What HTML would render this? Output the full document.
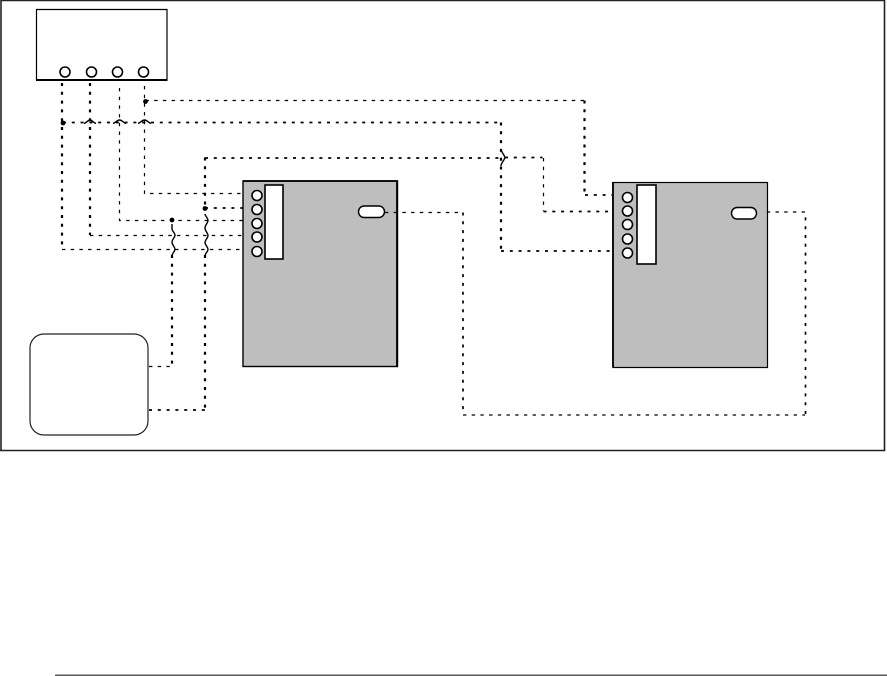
<!DOCTYPE html>
<html>
<head>
<meta charset="utf-8">
<style>
html,body{margin:0;padding:0;background:#fff;}
svg{display:block;}
.thick{fill:none;stroke:#000;stroke-width:2.2;stroke-dasharray:3 5.8;}
.med{fill:none;stroke:#000;stroke-width:1.7;stroke-dasharray:3 5.8;}
.thin{fill:none;stroke:#000;stroke-width:1.2;stroke-dasharray:3.4 5.3;}
.hump{fill:none;stroke:#000;stroke-width:1.4;}
.c{fill:#fff;stroke:#000;stroke-width:1.6;}
</style>
</head>
<body>
<svg width="887" height="676" viewBox="0 0 887 676" xmlns="http://www.w3.org/2000/svg">
<rect width="887" height="676" fill="#fff"/>
<!-- outer frame -->
<path d="M1 451V0.5H884.5V450.5H0" fill="none" stroke="#222" stroke-width="1.6"/>
<path d="M55 675.2H887" stroke="#222" stroke-width="1.2"/>

<!-- top box -->
<path d="M36.5 80V9.5H167V80" fill="#fff" stroke="#000" stroke-width="1.2"/>
<path d="M36 80H167.5" stroke="#000" stroke-width="2"/>
<circle class="c" cx="65" cy="72" r="5"/>
<circle class="c" cx="91.5" cy="72" r="5"/>
<circle class="c" cx="117.5" cy="72" r="5"/>
<circle class="c" cx="143.5" cy="72" r="5"/>

<!-- left panel -->
<rect x="243" y="181" width="154.5" height="185.5" fill="#bebebe" stroke="#000" stroke-width="1.4"/>
<path d="M397 181V366.5M243 181H397.5" stroke="#000" stroke-width="1.8" fill="none"/>
<rect x="265" y="185" width="18" height="74" fill="#fff" stroke="#000" stroke-width="1.6"/>
<circle class="c" cx="257" cy="195.5" r="5"/>
<circle class="c" cx="257" cy="209.5" r="5"/>
<circle class="c" cx="257" cy="223.5" r="5"/>
<circle class="c" cx="257" cy="237" r="5"/>
<circle class="c" cx="257" cy="251.5" r="5"/>
<rect x="358.5" y="206" width="26" height="11.5" rx="5.7" fill="#fff" stroke="#000" stroke-width="1.4"/>

<!-- right panel -->
<rect x="613" y="182.5" width="154.5" height="185" fill="#bebebe" stroke="#000" stroke-width="1.2"/>
<path d="M613 182V367.5" stroke="#000" stroke-width="1.8"/>
<rect x="637" y="185" width="19" height="79" fill="#fff" stroke="#000" stroke-width="1.6"/>
<circle class="c" cx="627.5" cy="197.5" r="5"/>
<circle class="c" cx="627.5" cy="211" r="5"/>
<circle class="c" cx="627.5" cy="224.5" r="5"/>
<circle class="c" cx="627.5" cy="239" r="5"/>
<circle class="c" cx="627.5" cy="253" r="5"/>
<rect x="731.5" y="207.5" width="25" height="11.5" rx="5.7" fill="#fff" stroke="#000" stroke-width="1.4"/>

<!-- rounded box -->
<rect x="30" y="334" width="118" height="101" rx="14" ry="14" fill="#fff" stroke="#222" stroke-width="1.2"/>

<!-- connectors -->
<path class="thick" d="M62 83V249"/>
<path class="thin" d="M62 249.5H243"/>
<path class="thick" d="M90 83V235"/>
<path class="thin" d="M90 235.5H243"/>
<path class="thin" d="M119.5 88V220.5H243"/>
<path class="thin" d="M144.5 86V193.5H243"/>
<path class="thin" d="M145.5 100.5H584"/>
<path class="thick" d="M584.5 100.5V195"/>
<path class="med" d="M585 195H612"/>
<path class="med" d="M63 122.5H500.5"/>
<path class="thick" d="M501 122.5V251"/>
<path class="med" d="M501 251H612"/>
<path class="med" d="M205 158H500"/>
<path class="thick" d="M205 157.5V208"/>
<path class="med" d="M205 208H243"/>
<path class="med" d="M505 157.5H542.5"/>
<path class="thin" d="M543.5 158V211"/>
<path class="med" d="M543.5 211.5H612"/>
<path class="thick" d="M172 255V366"/>
<path class="thin" d="M149 366.5H172"/>
<path class="thick" d="M205 255V410"/>
<path class="med" d="M149 410H205"/>
<path class="thin" d="M385 212.5H462"/>
<path class="med" d="M463 212.5V414.5"/>
<path class="thin" d="M463 415H805"/>
<path class="med" d="M805.5 414V212"/>
<path class="thin" d="M805 212H763"/>

<!-- hops -->
<path class="hump" d="M84 123.5C87 122.5 88 120 90 120C92 120 93 122.5 96 123.5"/>
<path class="hump" d="M113 123.5C116 122.5 117 120 119.5 120C122 120 123 122.5 126 123.5"/>
<path class="hump" d="M138 123.5C141 122.5 142 120 144.5 120C147 120 148 122.5 151 123.5"/>
<path class="hump" d="M501 149C501 152 504 154 505 157.5C504 161 501 163 501 166"/>
<path class="hump" d="M172 224V229C172 231 175 233 175 235C175 238 172 239 172 242C172 245 175 247 175 249C175 252 172 253 172 256"/>
<path class="hump" d="M205 214C205 216 208 218 208 220.5C208 223 205 225 205 228C205 231 208 233 208 235.5C208 238 205 240 205 242.5C205 245 208 247 208 249.5C208 252 205 253 205 256"/>

<!-- junction dots -->
<circle cx="63" cy="123" r="2.4"/>
<circle cx="145.5" cy="101.5" r="2.4"/>
<circle cx="172" cy="220" r="2.4"/>
<circle cx="205" cy="208.5" r="2.4"/>
</svg>
</body>
</html>
